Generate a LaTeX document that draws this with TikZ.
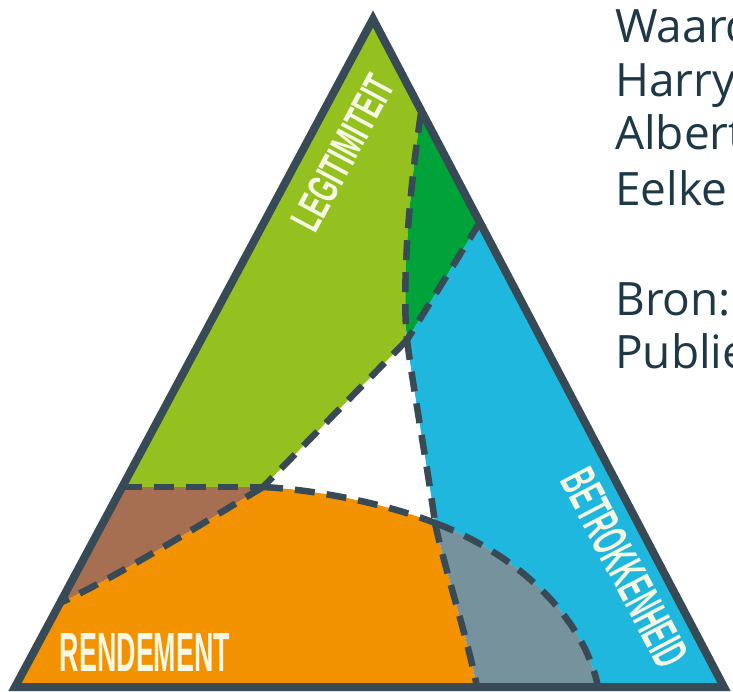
\documentclass[tikz,border=0pt]{standalone}
\usepackage{fontspec}
\usepackage{graphicx}
\setmainfont{Open Sans}
\newfontfamily\labelfont{Liberation Sans}
\definecolor{border}{HTML}{374A56}
\definecolor{lgreen}{HTML}{94C11F}
\definecolor{dgreen}{HTML}{00A339}
\definecolor{cblue}{HTML}{1FB7DE}
\definecolor{cbrown}{HTML}{A66F52}
\definecolor{corange}{HTML}{F39200}
\definecolor{cgray}{HTML}{76929C}
\definecolor{txt}{HTML}{1F3846}
\definecolor{lbl}{HTML}{F6F8E4}
\begin{document}
\begin{tikzpicture}[x=1pt,y=-1pt,
  divider/.style={draw=border, line width=6.5pt, dash pattern=on 20pt off 12pt},
  outline/.style={draw=border, line width=8pt, line join=miter},
  axislabel/.style={inner sep=0pt, text=lbl, font=\labelfont\bfseries},
  credit/.style={anchor=base west, inner sep=0pt, text=txt, font=\fontsize{46}{46}\selectfont}]
\useasboundingbox (0,0) rectangle (733,692);
\clip (0,0) rectangle (733,692);
\coordinate (A) at (373,19);
\coordinate (BL) at (15,687);
\coordinate (BR) at (724,687);
\coordinate (P1) at (122,487);
\coordinate (P2) at (263,487);
\coordinate (P3) at (60,603);
\coordinate (C) at (407,340);
\coordinate (D) at (421,113);
\coordinate (E) at (480,222);
\coordinate (F) at (435,523);
\coordinate (G) at (477,687);
\coordinate (H) at (598,687);
% regions
\fill[lgreen] (A) -- (D) .. controls (408,200) and (402,290) .. (C) -- (P2) -- (P1) -- cycle;
\fill[dgreen] (D) -- (E) -- (C) .. controls (402,290) and (408,200) .. (D) -- cycle;
\fill[cblue] (E) -- (BR) -- (H) .. controls (585,620) and (520,555) .. (F) .. controls (428,470) and (415,400) .. (C) -- cycle;
\fill[cbrown] (P1) -- (P2) .. controls (200,525) and (120,575) .. (P3) -- cycle;
\fill[corange] (P3) -- (BL) -- (G) .. controls (468,640) and (445,570) .. (F) .. controls (390,505) and (320,490) .. (P2) .. controls (200,525) and (120,575) .. (P3) -- cycle;
\fill[cgray] (F) .. controls (445,570) and (468,640) .. (G) -- (H) .. controls (585,620) and (520,555) .. (F) -- cycle;
% dashed dividers
\draw[divider] (D) .. controls (408,200) and (402,290) .. (C);
\draw[divider] (E) -- (C);
\draw[divider] (C) -- (P2);
\draw[divider] (P1) -- (P2);
\draw[divider] (P2) .. controls (200,525) and (120,575) .. (P3);
\draw[divider] (P2) .. controls (320,490) and (390,505) .. (F);
\draw[divider] (C) .. controls (415,400) and (428,470) .. (F);
\draw[divider] (F) .. controls (445,570) and (468,640) .. (G);
\draw[divider] (F) .. controls (520,555) and (585,620) .. (H);
% labels
\node[axislabel, rotate=61.8] (legit) at (343,153) {\resizebox{170pt}{30pt}{LEGITIMITEIT}};
\node[axislabel, rotate=-62.3] (betr) at (625,568) {\resizebox{215pt}{35pt}{BETROKKENHEID}};
\node[axislabel] (rend) at (145,652) {\resizebox{170pt}{38pt}{RENDEMENT}};
% outline
\draw[outline] (A) -- (BR) -- (BL) -- cycle;
% credits
\node[credit] (c1) at (615,43) {Waarde};
\node[credit] (c2) at (615,97) {Harry};
\node[credit] (c3) at (615,150) {Albert};
\node[credit] (c4) at (615,206) {Eelke};
\node[credit] (c5) at (615,316) {Bron:};
\node[credit] (c6) at (615,368) {Publiek};
\end{tikzpicture}
\end{document}
